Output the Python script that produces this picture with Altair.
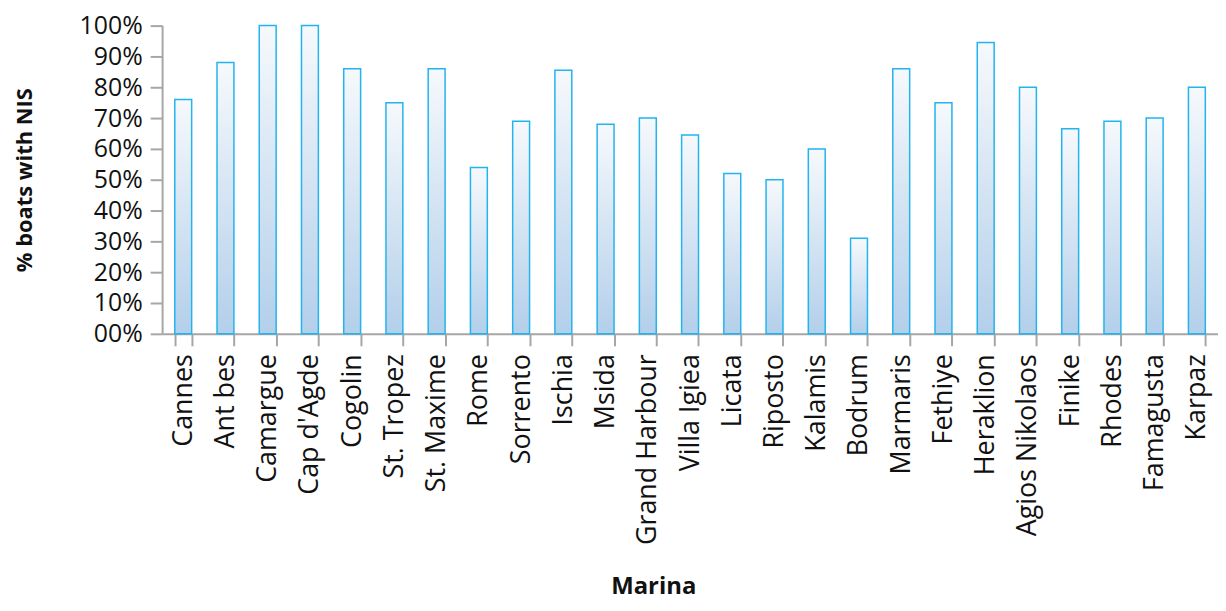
import altair as alt
import pandas as pd

marinas = ["Cannes", "Ant bes", "Camargue", "Cap d'Agde", "Cogolin", "St. Tropez",
           "St. Maxime", "Rome", "Sorrento", "Ischia", "Msida", "Grand Harbour",
           "Villa Igiea", "Licata", "Riposto", "Kalamis", "Bodrum", "Marmaris",
           "Fethiye", "Heraklion", "Agios Nikolaos", "Finike", "Rhodes",
           "Famagusta", "Karpaz"]
share = [0.76, 0.88, 1.00, 1.00, 0.86, 0.75, 0.86, 0.54, 0.69, 0.855, 0.68, 0.70,
         0.645, 0.52, 0.50, 0.60, 0.31, 0.86, 0.75, 0.945, 0.80, 0.665, 0.69,
         0.70, 0.80]
y_ticks = [0, 0.1, 0.2, 0.3, 0.4, 0.5, 0.6, 0.7, 0.8, 0.9, 1.0]

df = pd.DataFrame({"Marina": marinas, "share": share})

FONT = "Open Sans"
AX = "#A6A6A6"

grad = alt.Gradient(
    gradient="linear",
    stops=[alt.GradientStop(color="#F6F9FC", offset=0),
           alt.GradientStop(color="#B3CFEA", offset=1)],
    x1=0, x2=0, y1=0, y2=1,
)

chart = alt.Chart(df).mark_bar(
    fill=grad, stroke="#22B4EE", strokeWidth=1.5
).encode(
    x=alt.X("Marina:N", sort=marinas,
            scale=alt.Scale(paddingInner=0.6, paddingOuter=0.3),
            axis=alt.Axis(title="Marina", labelAngle=-90, labelAlign="right",
                          labelBaseline="middle", labelPadding=8, labelLimit=400,
                          tickBand="extent", tickSize=12, tickWidth=2,
                          tickColor=AX, domainColor=AX, domainWidth=2,
                          labelFont=FONT, labelFontSize=27, labelColor="#111",
                          titleFont=FONT, titleFontSize=24, titleFontWeight="bold",
                          titleColor="#111", titleX=494, titleY=254,
                          titleBaseline="middle")),
    y=alt.Y("share:Q", scale=alt.Scale(domain=[0, 1], nice=False),
            axis=alt.Axis(title="% boats  with NIS", values=y_ticks,
                          labelExpr="datum.value == 0 ? '00%' : format(datum.value, '.0%')",
                          grid=False, tickSize=12, tickWidth=2, tickColor=AX,
                          domainColor=AX, domainWidth=2, labelPadding=8,
                          labelFont=FONT, labelFontSize=25, labelColor="#111",
                          titleFont=FONT, titleFontSize=22, titleFontWeight="bold",
                          titleColor="#111", titleX=-138, titleBaseline="middle")),
).properties(
    width=1062, height=310,
    autosize=alt.AutoSizeParams(type="none"),
    padding={"left": 155, "top": 16, "right": 0, "bottom": 266},
).configure_view(stroke=None)

chart.save("out.html", embed_options={"renderer": "svg", "actions": False})
